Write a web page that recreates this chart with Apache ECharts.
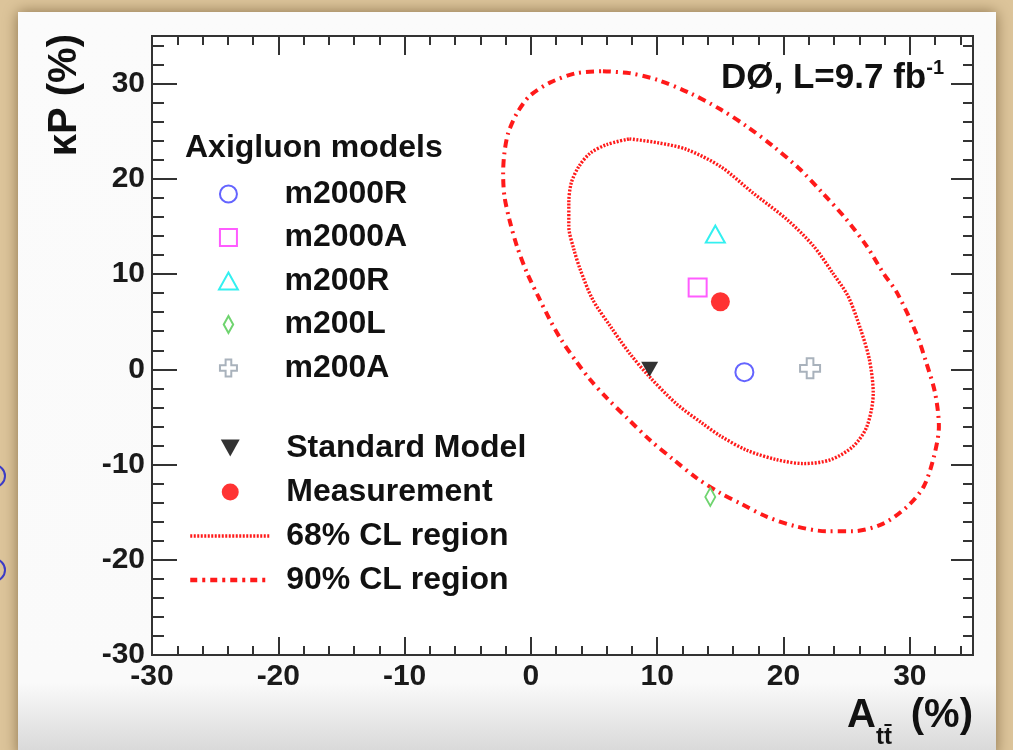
<!DOCTYPE html>
<html><head><meta charset="utf-8">
<script src="https://cdn.jsdelivr.net/npm/echarts@6/dist/echarts.min.js"></script>
<style>html,body{margin:0;padding:0;background:#dcc49a}#c{width:1013px;height:750px}</style>
</head><body><div id="c"></div>
<script>
// ---- data ----
const xTickLabels = [-30, -20, -10, 0, 10, 20, 30];
const yTickLabels = [-30, -20, -10, 0, 10, 20, 30];
const axisMin = -30, axisMax = 35;

const m2000R = [[16.9, -0.3]];
const m2000A = [[13.2, 8.6]];
const m200R = [[14.6, 14.2]];
const m200L = [[14.2, -13.4]];
const m200A = [[22.1, 0.1]];
const standardModel = [[9.4, 0.0]];
const measurement = [[15.0, 7.1]];

const cl68 = [
[7.8,24.2],[10.0,23.8],[12.3,23.1],[15.0,21.3],[17.6,18.5],[20.3,15.7],[22.4,12.9],[23.9,10.1],[25.1,7.7],[26.1,4.2],[26.8,1.0],[27.1,-2.5],[26.6,-6.0],[25.5,-8.1],[23.7,-9.5],[21.6,-9.9],[19.5,-9.5],[17.1,-8.5],[15.0,-7.0],[13.6,-5.7],[11.5,-3.6],[9.4,-0.8],[7.8,1.7],[6.3,4.5],[4.9,7.3],[3.9,10.5],[3.4,12.6],[3.0,15.0],[3.0,17.5],[3.2,19.6],[3.8,21.3],[4.7,22.7],[6.0,23.6],[7.8,24.2]
];
const cl90 = [
[5.7,31.3],[7.8,31.1],[10.0,30.4],[12.6,29.0],[15.0,27.3],[17.1,25.5],[19.2,23.4],[21.3,21.0],[23.1,18.5],[25.0,15.7],[26.6,12.9],[27.9,10.1],[29.0,8.0],[30.5,3.8],[31.3,0.7],[32.0,-2.5],[32.3,-6.0],[31.9,-9.2],[31.1,-12.3],[29.8,-14.4],[27.9,-16.2],[25.5,-17.0],[23.4,-17.0],[21.0,-16.5],[18.7,-15.5],[16.6,-14.1],[15.0,-13.0],[13.1,-11.4],[11.3,-9.5],[9.4,-7.4],[7.6,-5.1],[6.0,-3.0],[4.7,-1.1],[3.6,0.8],[2.4,3.1],[1.5,5.2],[0.6,7.6],[-0.3,10.1],[-1.1,12.9],[-1.7,15.7],[-2.1,18.2],[-2.2,20.6],[-2.1,22.7],[-1.8,24.8],[-1.1,26.9],[-0.1,28.7],[1.5,30.1],[3.6,31.1],[5.7,31.3]
];

// ---- styling ----
const F = '"Liberation Sans", Arial, Helvetica, sans-serif';
const AX = '#333';
const crossPath = 'path://M2,0H4V2H6V4H4V6H2V4H0V2H2Z';
const diamondPath = 'path://M5,0L10,9L5,18L0,9Z';
const squarePath = 'path://M0,0H10V10H0Z';
const triUpPath = 'path://M5,0L10,9L0,9Z';
const triDownPath = 'path://M0,0H10L5,9Z';

function axis(dim, pos, major, len, showLabel, labels) {
  const a = {
    type: 'value', min: axisMin, max: axisMax, interval: major ? 10 : 2,
    position: pos,
    axisLine: { show: true, onZero: false, lineStyle: { color: AX, width: 2 } },
    axisTick: { show: true, inside: true, length: len, lineStyle: { color: AX, width: 2 } },
    splitLine: { show: false },
    axisLabel: { show: false }
  };
  if (showLabel) {
    a.axisLabel = {
      show: true, fontSize: 30, fontWeight: 'bold', fontFamily: F, color: '#1a1a1a',
      margin: 7,
      formatter: v => labels.indexOf(v) >= 0 ? String(v) : ''
    };
  }
  return a;
}

const chart = echarts.init(document.getElementById('c'), null, { renderer: 'canvas' });

const emptyStyle = c => ({ color: '#ffffff', borderColor: c, borderWidth: 2, opacity: 1 });
const legendText = { fontSize: 32, fontWeight: 'bold', fontFamily: F, color: '#111', lineHeight: 30, padding: [0, 0, 0, 11] };
const noSymbol = { opacity: 0, color: 'rgba(0,0,0,0)', borderWidth: 0 };

chart.setOption({
  animation: false,
  backgroundColor: '#dcc49a',
  grid: { left: 152, top: 36, width: 821, height: 619, containLabel: false, show: true, backgroundColor: '#ffffff', borderWidth: 0 },
  xAxis: [
    axis('x', 'bottom', true, 18, true, xTickLabels),
    axis('x', 'bottom', false, 9, false),
    axis('x', 'top', true, 19, false),
    axis('x', 'top', false, 9, false)
  ],
  yAxis: [
    axis('y', 'left', true, 25, true, yTickLabels),
    axis('y', 'left', false, 12, false),
    axis('y', 'right', true, 22, false),
    axis('y', 'right', false, 10, false)
  ],
  legend: [
    {
      // icons are narrower than itemWidth and centred in it; box is placed by its visible bounds
      orient: 'vertical', left: 218, top: 178, padding: 0,
      itemWidth: 80, itemHeight: 17, itemGap: 11.5, selectedMode: false,
      textStyle: legendText,
      data: ['m2000R', 'm2000A', 'm200R', 'm200L', 'm200A']
    },
    {
      orient: 'vertical', left: 188, top: 432, padding: 0,
      itemWidth: 80, itemHeight: 17, itemGap: 12, selectedMode: false,
      textStyle: legendText,
      data: ['Standard Model', 'Measurement',
        { name: '68% CL region', itemStyle: noSymbol, lineStyle: { width: 3.4, type: [2, 1.5], color: '#ff1a1a' } },
        { name: '90% CL region', itemStyle: noSymbol, lineStyle: { width: 4.5, type: [7, 5, 3, 5], color: '#ff1a1a' } }]
    }
  ],
  series: [
    { type: 'line', name: '68% CL region', data: cl68, symbol: 'none', showSymbol: false, smooth: 0.3,
      lineStyle: { color: '#ff1a1a', width: 3.4, type: [2, 1.5] }, itemStyle: { color: '#ff1a1a' }, z: 2 },
    { type: 'line', name: '90% CL region', data: cl90, symbol: 'none', showSymbol: false, smooth: 0.3,
      lineStyle: { color: '#ff1a1a', width: 4, type: [8, 5, 2, 5] }, itemStyle: { color: '#ff1a1a' }, z: 2 },
    { type: 'scatter', name: 'm2000R', data: m2000R, symbol: 'circle', symbolSize: 18, itemStyle: emptyStyle('#6464ff'), z: 3 },
    { type: 'scatter', name: 'm2000A', data: m2000A, symbol: squarePath, symbolSize: 18, itemStyle: emptyStyle('#ff5cff'), z: 3 },
    { type: 'scatter', name: 'm200R', data: m200R, symbol: triUpPath, symbolSize: [19, 17], itemStyle: emptyStyle('#33f0f0'), z: 3 },
    { type: 'scatter', name: 'm200L', data: m200L, symbol: diamondPath, symbolSize: [10, 18], itemStyle: emptyStyle('#6fd46f'), z: 3 },
    { type: 'scatter', name: 'm200A', data: m200A, symbol: crossPath, symbolSize: 20, itemStyle: emptyStyle('#a9b2bc'), z: 3 },
    { type: 'scatter', name: 'Standard Model', data: standardModel, symbol: triDownPath, symbolSize: [17, 15], itemStyle: { color: '#000' }, z: 4 },
    { type: 'scatter', name: 'Measurement', data: measurement, symbol: 'circle', symbolSize: 19, itemStyle: { color: '#ff0000' }, z: 4 }
  ],
  graphic: [
    { type: 'rect', z: -100, silent: true, shape: { x: 18, y: 12, width: 978, height: 745 },
      style: { fill: { type: 'linear', x: 0, y: 0, x2: 0, y2: 1, colorStops: [
        { offset: 0, color: '#fbfbfb' }, { offset: 0.9, color: '#fafafa' }, { offset: 1, color: '#d6d6d6' }] },
        shadowBlur: 14, shadowColor: 'rgba(70,45,10,0.55)' } },
    { type: 'circle', z: -101, silent: true, shape: { cx: -6, cy: 476, r: 11 }, style: { fill: 'none', stroke: '#3b3bc8', lineWidth: 2 } },
    { type: 'circle', z: -101, silent: true, shape: { cx: -6, cy: 570, r: 11 }, style: { fill: 'none', stroke: '#3b3bc8', lineWidth: 2 } },
    { type: 'text', x: 185, y: 148, z: 10, style: { text: 'Axigluon models', fontSize: 32, fontWeight: 'bold', fontFamily: F, fill: '#111', align: 'left', verticalAlign: 'middle' } },
    { type: 'text', x: 944, y: 58, z: 10, style: {
        text: '{a|DØ, L=9.7 fb}{s|-1}', align: 'right', verticalAlign: 'top',
        rich: {
          a: { fontSize: 35, fontWeight: 'bold', fontFamily: F, fill: '#111', lineHeight: 38, verticalAlign: 'bottom' },
          s: { fontSize: 20, fontWeight: 'bold', fontFamily: F, fill: '#111', lineHeight: 20, verticalAlign: 'top' }
        } } },
    { type: 'text', x: 847, y: 716, z: 10, style: { text: 'A', fontSize: 40, fontWeight: 'bold', fontFamily: F, fill: '#111', align: 'left', verticalAlign: 'middle' } },
    { type: 'text', x: 876, y: 737, z: 10, style: { text: 'tt\u0304', fontSize: 24, fontWeight: 'bold', fontFamily: F, fill: '#111', align: 'left', verticalAlign: 'middle' } },
    { type: 'text', x: 973, y: 716, z: 10, style: { text: '(%)', fontSize: 40, fontWeight: 'bold', fontFamily: F, fill: '#111', align: 'right', verticalAlign: 'middle' } },
    { type: 'text', x: 65, y: 34, rotation: Math.PI / 2, z: 10, style: {
        text: 'κP (%)', fontSize: 40, fontWeight: 'bold', fontFamily: F, fill: '#111', align: 'right', verticalAlign: 'middle' } }
  ]
});
</script>
</body></html>
